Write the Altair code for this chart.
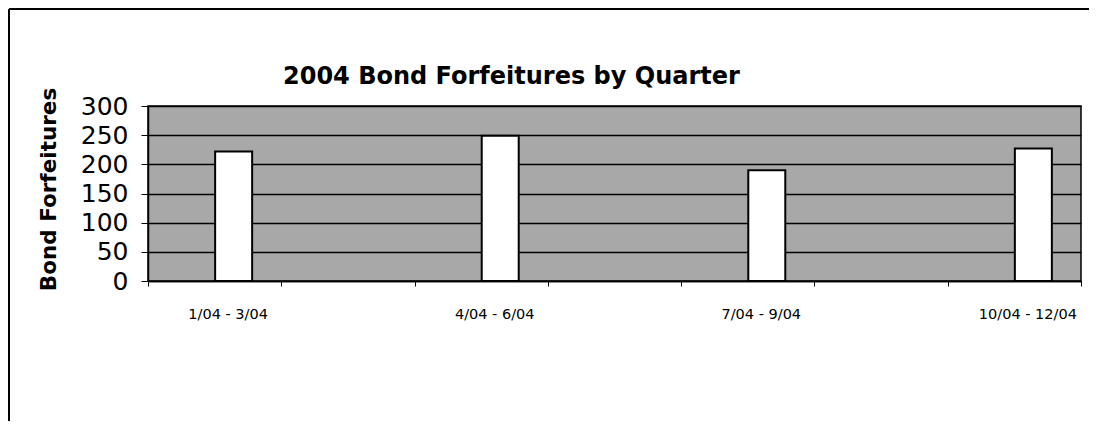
import altair as alt
import pandas as pd

# --- data ---
quarters = ["1/04 - 3/04", "4/04 - 6/04", "7/04 - 9/04", "10/04 - 12/04"]
forfeitures = [222, 249, 190, 227]
# the category axis has empty slots between the quarters
slot_order = ["1/04 - 3/04", "gap1", "4/04 - 6/04", "gap2", "7/04 - 9/04", "gap3", "10/04 - 12/04"]
y_ticks = [0, 50, 100, 150, 200, 250, 300]
title_text = "2004 Bond Forfeitures by Quarter"

df = pd.DataFrame({"quarter": quarters, "value": forfeitures})

FONT = "DejaVu Sans"

x_enc = alt.X(
    "quarter:N",
    scale=alt.Scale(domain=slot_order, paddingInner=0, paddingOuter=0),
    axis=alt.Axis(
        title=None,
        labelExpr="indexof(datum.label, 'gap') >= 0 ? '' : datum.label",
        labelAngle=0,
        labelFont=FONT,
        labelFontSize=14.5,
        labelColor="black",
        labelOffset=13,
        labelPadding=21,
        tickBand="extent",
        tickColor="black",
        tickSize=5,
        domainColor="black",
        domainWidth=1.5,
        grid=False,
    ),
)

y_enc = alt.Y(
    "value:Q",
    scale=alt.Scale(domain=[0, 300], nice=False),
    axis=alt.Axis(
        values=y_ticks,
        title="Bond Forfeitures",
        titleFont=FONT,
        titleFontSize=21.5,
        titleFontWeight="bold",
        titleColor="black",
        titleX=-99,
        titleY=83,
        titleAngle=-90,
        titleBaseline="middle",
        titleAlign="center",
        labelFont=FONT,
        labelFontSize=25,
        labelColor="black",
        labelPadding=13,
        tickColor="black",
        tickSize=7,
        domainColor="black",
        domainWidth=1.5,
        grid=True,
        gridColor="black",
        gridWidth=1.5,
    ),
)

base = alt.Chart(df)

bars = base.mark_bar(
    size=37, xOffset=19, fill="white", stroke="black", strokeWidth=2
).encode(x=x_enc, y=y_enc)

title = alt.Chart(pd.DataFrame({"t": [title_text]})).mark_text(
    font=FONT, fontSize=24, fontWeight="bold", color="black",
    align="left", baseline="alphabetic", clip=False,
).encode(x=alt.value(135), y=alt.value(-22), text="t:N")

# outer chart frame (left and top edges visible in the reference)
frame_top = base.mark_rule(color="black", strokeWidth=1.5, clip=False).encode(
    x=alt.value(-139), x2=alt.value(941), y=alt.value(-97)
)
frame_left = base.mark_rule(color="black", strokeWidth=1.5, clip=False).encode(
    x=alt.value(-139), y=alt.value(-97), y2=alt.value(315)
)

chart = (
    alt.layer(bars, title, frame_top, frame_left)
    .properties(
        width=933,
        height=175,
        autosize=alt.AutoSizeParams(type="none"),
        padding={"left": 140, "top": 98, "right": 8, "bottom": 140},
    )
    .configure(background="white")
    .configure_view(fill="#a8a8a8", stroke="black", strokeWidth=1.5)
)

chart.save("out.html", embed_options={"renderer": "svg", "actions": False})
